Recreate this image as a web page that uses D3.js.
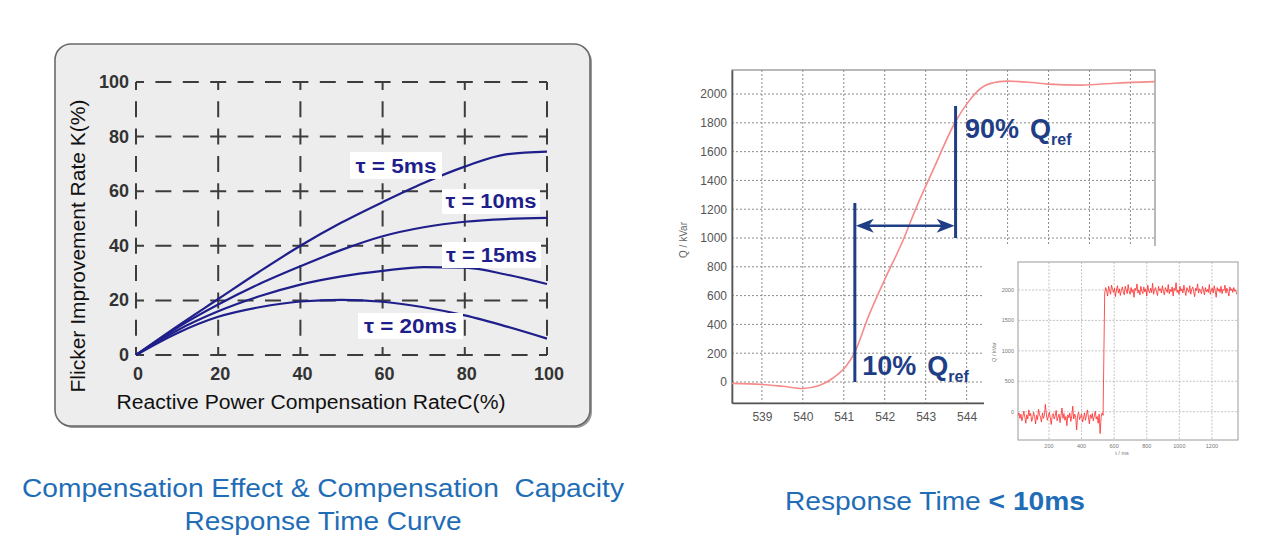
<!DOCTYPE html>
<html>
<head>
<meta charset="utf-8">
<script src="https://cdn.jsdelivr.net/npm/d3@7"></script>
<style>
  body { margin: 0; background: #fff; }
  svg { display: block; font-family: Arial, "Liberation Sans", sans-serif; }
</style>
</head>
<body>
<svg id="viz" width="1268" height="550"></svg>
<script>
// ---- left chart data: K(%) vs C(%) for each tau ----
const compRate = [0, 10, 20, 30, 40, 50, 60, 70, 80, 90, 100];
const tau5 = [0, 10.5, 20.5, 30.5, 40, 48.5, 56, 63, 69, 73.5, 74.5];
const tau10 = [0, 10, 18.5, 26, 32.5, 38.5, 43.5, 46.8, 48.8, 49.8, 50.2];
const tau15 = [0, 9, 16, 21.5, 25.8, 28.8, 30.8, 32.2, 32, 29.5, 26];
const tau20 = [0, 8, 14, 17.5, 19.6, 20.2, 19.5, 17.5, 14.5, 10.5, 6];
const tauNames = ['τ = 5ms', 'τ = 10ms', 'τ = 15ms', 'τ = 20ms'];
const leftTicks = [0, 20, 40, 60, 80, 100];

// ---- right chart: step response Q (kVar) vs t (ms) ----
const respTime = [538.27, 539, 539.5, 540, 540.4, 540.73, 541.05, 541.26, 541.6, 541.96, 542.45,
  542.78, 543.18, 543.72, 544.0, 544.4, 544.8, 545.0, 545.6, 546.0, 546.8, 547.6, 548.6];
const respQ = [-10, -17, -30, -45, -25, 26, 107, 200, 454, 687, 986,
  1218, 1472, 1804, 1930, 2051, 2086, 2090, 2080, 2069, 2062, 2075, 2086];
const respXTicks = [539, 540, 541, 542, 543, 544];
const respXGrid = [539, 540, 541, 542, 543, 544, 545, 546, 547, 548];
const respYTicks = [0, 200, 400, 600, 800, 1000, 1200, 1400, 1600, 1800, 2000];
// annotation: t10 / t90 marks and arrow level
const t10 = 541.27, t90 = 543.73, arrowQ = 1085;

// ---- inset: full record, sampled every 6 ms ----
const insetPreStart = 10, insetPostStart = 542, insetStep = 6;
const insetPre = [-60,-20,-110,-40,-150,-80,10,-90,-190,-50,
  -120,30,-70,-30,-160,-100,-10,-80,-200,-60,
  -130,40,-50,-90,-170,-20,-110,-60,120,-40,
  -140,-80,-10,-100,-210,-60,-30,-120,-70,20,
  -150,-90,-40,-180,-60,60,-110,-30,-140,-80,
  -230,-50,-100,-20,-160,-70,90,-120,-40,-90,
  -300,-60,-10,-130,-80,-40,-170,-100,-20,-140,
  -60,30,-90,-200,-50,-110,-30,-150,-70,10,
  -120,-80,-190,-40,-360,-90,-20,-60];
const insetPost = [1950,2040,1980,1900,2060,1990,1930,2080,2010,1960,
  2030,1890,2000,2070,1950,2020,1910,1990,2050,1970,
  1920,2060,2000,1940,2090,1980,1930,2040,1960,2010,
  1880,2030,1990,2100,1950,2000,1920,2060,1980,1940,
  2050,1970,2020,1900,2080,1990,1950,2030,1960,2110,
  1930,2000,2040,1970,1910,2060,1990,2020,1950,2070,
  1980,1920,2040,2000,1960,2090,1940,2010,1970,2050,
  1900,2030,1990,2120,1960,2000,1930,2060,1980,2020,
  1950,2080,1990,1910,2040,2000,1960,2070,1930,2010,
  2050,1970,1890,2030,1990,2100,1950,2020,1980,1940,
  2060,2000,1920,2040,1970,2010,1960,2090,1930,2000,
  2030,1950,2070,1990,1880,2040,1980,2020,1960,2060,
  1940,2010,1990,2080,1950,2030,1970,1900,2050,1990,
  2020,1960,2040,1980,2000,1930];
const insetXTicks = [200, 400, 600, 800, 1000, 1200];
const insetYTicks = [0, 500, 1000, 1500, 2000];

const svg = d3.select('#viz');
const navy = '#1f1f8c';
const annBlue = '#1f3e86';
const capBlue = '#1f6db6';

// ================= LEFT CHART =================
const left = svg.append('g');
left.append('rect').attr('x', 57).attr('y', 46).attr('width', 535).attr('height', 382)
  .attr('rx', 16).attr('fill', '#9a9a9a');
left.append('rect').attr('x', 55).attr('y', 44).attr('width', 535).attr('height', 382)
  .attr('rx', 16).attr('fill', '#ededed').attr('stroke', '#6a6a6a').attr('stroke-width', 1.6);

const lx = d3.scaleLinear().domain([0, 100]).range([136, 547]);
const ly = d3.scaleLinear().domain([0, 100]).range([355, 82]);

// dashed grid, a dash centred on every crossing
const dashLen = 16;
const vLen = ly(0) - ly(100), hLen = lx(100) - lx(0);
const vPer = vLen / 10, hPer = hLen / 15;
left.append('g').selectAll('line').data(leftTicks).join('line')
  .attr('x1', d => lx(d)).attr('x2', d => lx(d))
  .attr('y1', ly(100)).attr('y2', ly(0))
  .attr('stroke', '#3c3c3c').attr('stroke-width', 2)
  .attr('stroke-dasharray', `${dashLen},${vPer - dashLen}`)
  .attr('stroke-dashoffset', dashLen / 2);
left.append('g').selectAll('line').data(leftTicks).join('line')
  .attr('y1', d => ly(d)).attr('y2', d => ly(d))
  .attr('x1', lx(0)).attr('x2', lx(100))
  .attr('stroke', '#3c3c3c').attr('stroke-width', 2)
  .attr('stroke-dasharray', `${dashLen},${hPer - dashLen}`)
  .attr('stroke-dashoffset', dashLen / 2);

// tick labels
left.append('g').selectAll('text').data(leftTicks).join('text')
  .attr('x', 129).attr('y', d => ly(d) + 6)
  .attr('text-anchor', 'end').attr('font-size', 18).attr('font-weight', 'bold')
  .attr('fill', '#333').text(d => d);
left.append('g').selectAll('text').data(leftTicks).join('text')
  .attr('x', d => lx(d) + 2).attr('y', 380)
  .attr('text-anchor', 'middle').attr('font-size', 18).attr('font-weight', 'bold')
  .attr('fill', '#333').text(d => d);

// axis titles
left.append('text').attr('transform', 'translate(85,246) rotate(-90)')
  .attr('text-anchor', 'middle').attr('font-size', 19.5).attr('fill', '#111')
  .attr('textLength', 293).attr('lengthAdjust', 'spacingAndGlyphs')
  .text('Flicker Improvement Rate  K(%)');
left.append('text').attr('x', 311).attr('y', 409)
  .attr('text-anchor', 'middle').attr('font-size', 19.5).attr('fill', '#111')
  .attr('textLength', 389).attr('lengthAdjust', 'spacingAndGlyphs')
  .text('Reactive Power Compensation RateC(%)');

// curves
const series = [tau5, tau10, tau15, tau20];
const lline = d3.line().x(d => lx(d[0])).y(d => ly(d[1])).curve(d3.curveMonotoneX);
left.append('g').selectAll('path').data(series).join('path')
  .attr('d', s => lline(s.map((v, i) => [compRate[i], v])))
  .attr('fill', 'none').attr('stroke', navy).attr('stroke-width', 2.2);

// label boxes (x0, y0, x1, y1) and text width
const labelBoxes = [[350, 152, 442, 179], [442, 189, 540, 214], [442, 242, 541, 268], [358, 313, 463, 339]];
const labelWidths = [81, 91, 91, 93];
const lab = left.append('g').selectAll('g').data(tauNames).join('g');
lab.append('rect')
  .attr('x', (d, i) => labelBoxes[i][0]).attr('y', (d, i) => labelBoxes[i][1])
  .attr('width', (d, i) => labelBoxes[i][2] - labelBoxes[i][0])
  .attr('height', (d, i) => labelBoxes[i][3] - labelBoxes[i][1])
  .attr('fill', '#fff');
lab.append('text')
  .attr('x', (d, i) => (labelBoxes[i][0] + labelBoxes[i][2]) / 2)
  .attr('y', (d, i) => labelBoxes[i][3] - 6)
  .attr('text-anchor', 'middle').attr('font-size', 19.5).attr('font-weight', 'bold')
  .attr('textLength', (d, i) => labelWidths[i]).attr('lengthAdjust', 'spacingAndGlyphs')
  .attr('fill', navy).text(d => d);

// caption
svg.append('text').attr('x', 323).attr('y', 497).attr('text-anchor', 'middle')
  .attr('font-size', 25).attr('fill', capBlue).attr('xml:space', 'preserve')
  .attr('textLength', 602).attr('lengthAdjust', 'spacingAndGlyphs')
  .text('Compensation Effect & Compensation\u00a0\u00a0Capacity');
svg.append('text').attr('x', 323).attr('y', 529.5).attr('text-anchor', 'middle')
  .attr('font-size', 25).attr('fill', capBlue)
  .attr('textLength', 277).attr('lengthAdjust', 'spacingAndGlyphs')
  .text('Response Time Curve');

// ================= RIGHT CHART =================
const right = svg.append('g');
const rx = d3.scaleLinear().domain([538.27, 548.6]).range([732, 1155]);
const ry = d3.scaleLinear().domain([-146, 2167]).range([403, 70]);

right.append('rect').attr('x', rx.range()[0]).attr('y', ry.range()[1])
  .attr('width', rx.range()[1] - rx.range()[0]).attr('height', ry.range()[0] - ry.range()[1])
  .attr('fill', '#fff').attr('stroke', '#8a8a8a').attr('stroke-width', 1.2);

right.append('g').selectAll('line').data(respXGrid).join('line')
  .attr('x1', d => rx(d)).attr('x2', d => rx(d)).attr('y1', ry.range()[1]).attr('y2', ry.range()[0])
  .attr('stroke', '#8c8c8c').attr('stroke-width', 1).attr('stroke-dasharray', '2,2');
right.append('g').selectAll('line').data(respYTicks).join('line')
  .attr('y1', d => ry(d)).attr('y2', d => ry(d)).attr('x1', rx.range()[0]).attr('x2', rx.range()[1])
  .attr('stroke', '#8c8c8c').attr('stroke-width', 1).attr('stroke-dasharray', '2,2');

const xAx = right.append('g').attr('transform', `translate(0,${ry.range()[0]})`)
  .call(d3.axisBottom(rx).tickValues(respXTicks).tickFormat(d3.format('d')).tickSize(0).tickPadding(9));
const yAx = right.append('g').attr('transform', `translate(${rx.range()[0]},0)`)
  .call(d3.axisLeft(ry).tickValues(respYTicks).tickFormat(d3.format('d')).tickSize(0).tickPadding(5));
[xAx, yAx].forEach(a => {
  a.select('.domain').attr('stroke', '#555').attr('stroke-width', 1.6);
  a.selectAll('text').attr('font-size', 12).attr('fill', '#555').attr('font-family', 'Arial, sans-serif');
});
right.append('text').attr('transform', 'translate(687,240) rotate(-90)')
  .attr('text-anchor', 'middle').attr('font-size', 10).attr('fill', '#666').text('Q / kVar');

const rline = d3.line().x(d => rx(d[0])).y(d => ry(d[1])).curve(d3.curveMonotoneX);
right.append('path').attr('d', rline(respTime.map((t, i) => [t, respQ[i]])))
  .attr('fill', 'none').attr('stroke', '#f58c8c').attr('stroke-width', 1.6);

// annotations
const ann = right.append('g').attr('stroke', annBlue).attr('stroke-width', 3);
ann.append('line').attr('x1', rx(t10)).attr('x2', rx(t10)).attr('y1', ry(1243)).attr('y2', ry(0));
ann.append('line').attr('x1', rx(t90)).attr('x2', rx(t90)).attr('y1', ry(1917)).attr('y2', ry(1000));
ann.append('line').attr('x1', rx(t10) + 12).attr('x2', rx(t90) - 12)
  .attr('y1', ry(arrowQ)).attr('y2', ry(arrowQ)).attr('stroke-width', 2.5);
const ay = ry(arrowQ);
right.append('path')
  .attr('d', `M${rx(t10) + 1},${ay} L${rx(t10) + 19},${ay - 7} L${rx(t10) + 14},${ay} L${rx(t10) + 19},${ay + 7} Z`)
  .attr('fill', annBlue);
right.append('path')
  .attr('d', `M${rx(t90) - 1},${ay} L${rx(t90) - 19},${ay - 7} L${rx(t90) - 14},${ay} L${rx(t90) - 19},${ay + 7} Z`)
  .attr('fill', annBlue);

function qLabel(x, y, pct) {
  const t = right.append('text').attr('x', x).attr('y', y)
    .attr('font-size', 27).attr('font-weight', 'bold').attr('fill', annBlue);
  t.append('tspan').text(pct);
  t.append('tspan').attr('dx', 11).text('Q');
  t.append('tspan').attr('dy', 7).attr('font-size', 16).text('ref');
}
qLabel(rx(541.45), ry(48), '10%');
qLabel(rx(543.96), ry(1695), '90%');

// ================= INSET =================
const inset = svg.append('g');
inset.append('rect').attr('x', 984).attr('y', 246).attr('width', 260).attr('height', 218).attr('fill', '#fff');
const ix = d3.scaleLinear().domain([10, 1360]).range([1018, 1238]);
const iy = d3.scaleLinear().domain([-465, 2460]).range([440, 262]);
inset.append('rect').attr('x', 1018).attr('y', 262).attr('width', 220).attr('height', 178)
  .attr('fill', '#fff').attr('stroke', '#9a9a9a').attr('stroke-width', 1);
inset.append('g').selectAll('line').data(insetXTicks).join('line')
  .attr('x1', d => ix(d)).attr('x2', d => ix(d)).attr('y1', 262).attr('y2', 440)
  .attr('stroke', '#b5b5b5').attr('stroke-width', 0.8).attr('stroke-dasharray', '2,1.5');
inset.append('g').selectAll('line').data(insetYTicks).join('line')
  .attr('y1', d => iy(d)).attr('y2', d => iy(d)).attr('x1', 1018).attr('x2', 1238)
  .attr('stroke', '#b5b5b5').attr('stroke-width', 0.8).attr('stroke-dasharray', '2,1.5');
inset.append('g').selectAll('text').data(insetXTicks).join('text')
  .attr('x', d => ix(d)).attr('y', 448).attr('text-anchor', 'middle')
  .attr('font-size', 5.5).attr('fill', '#777').text(d => d);
inset.append('g').selectAll('text').data(insetYTicks).join('text')
  .attr('x', 1014).attr('y', d => iy(d) + 2).attr('text-anchor', 'end')
  .attr('font-size', 5.5).attr('fill', '#777').text(d => d);
inset.append('text').attr('x', 1122).attr('y', 455).attr('text-anchor', 'middle')
  .attr('font-size', 5.5).attr('fill', '#777').text('t / ms');
inset.append('text').attr('transform', 'translate(996,352) rotate(-90)').attr('text-anchor', 'middle')
  .attr('font-size', 5.5).attr('fill', '#777').text('Q / kVar');

const insetPts = insetPre.map((v, i) => [insetPreStart + i * insetStep, v])
  .concat(insetPost.map((v, i) => [insetPostStart + i * insetStep, v]));
inset.append('path')
  .attr('d', d3.line().x(d => ix(d[0])).y(d => iy(d[1]))(insetPts))
  .attr('fill', 'none').attr('stroke', '#ff2a2a').attr('stroke-width', 0.9).attr('opacity', 0.9);

// caption
const cap2 = svg.append('text').attr('x', 935).attr('y', 510).attr('text-anchor', 'middle')
  .attr('font-size', 25).attr('fill', capBlue)
  .attr('textLength', 300).attr('lengthAdjust', 'spacingAndGlyphs');
cap2.append('tspan').text('Response Time ');
cap2.append('tspan').attr('font-weight', 'bold').text('< 10ms');
</script>
</body>
</html>
